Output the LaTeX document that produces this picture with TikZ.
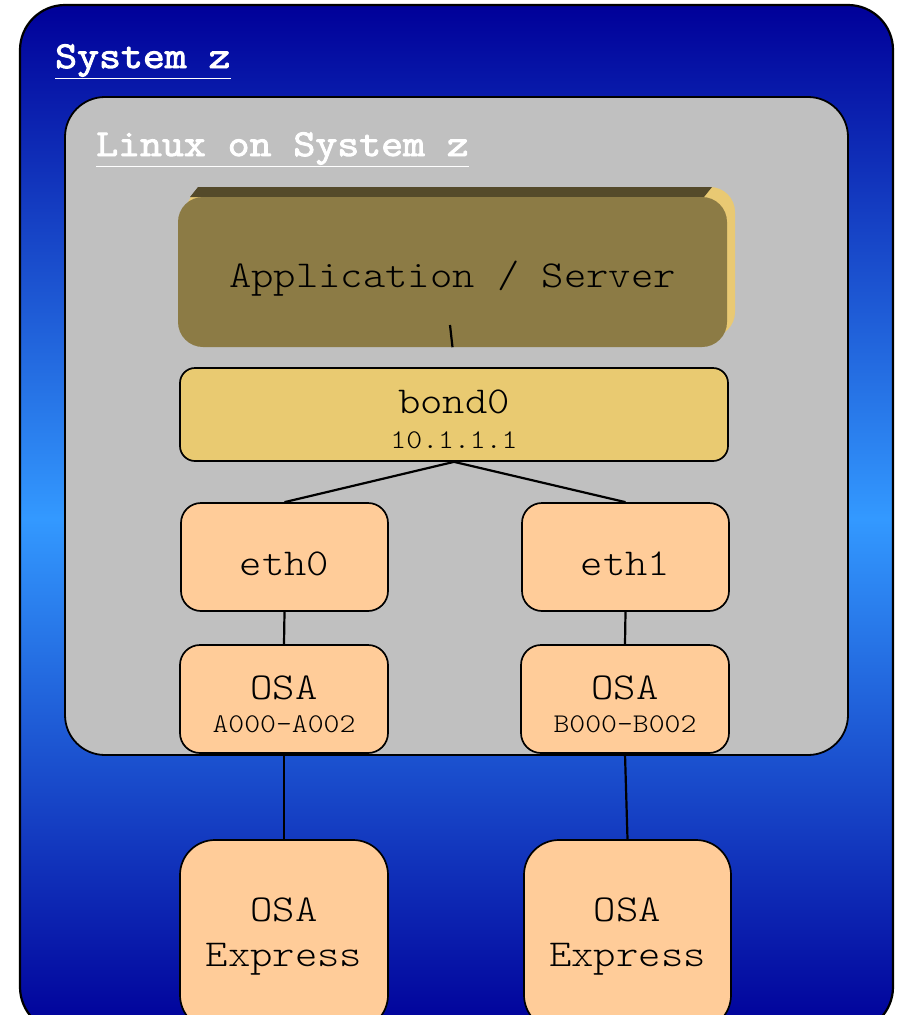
\documentclass[tikz,border=0pt]{standalone}
\usepackage{fontspec}
\newfontfamily\cour[FakeStretch=1.12]{Latin Modern Mono Light}
\newfontfamily\courbold[FakeStretch=1.12,FakeBold=2.5]{Latin Modern Mono}
\definecolor{outerdark}{RGB}{0,0,153}
\definecolor{outerlight}{RGB}{51,153,255}
\definecolor{linuxgray}{RGB}{192,192,192}
\definecolor{appfront}{RGB}{140,123,69}
\definecolor{apptop}{RGB}{84,74,42}
\definecolor{appside}{RGB}{233,201,115}
\definecolor{bondfill}{RGB}{233,202,113}
\definecolor{peach}{RGB}{255,204,153}
\newcommand\myBig[1]{\cour\fontsize{38}{#1}\selectfont}
\newcommand\mySmall[1]{\cour\fontsize{27}{#1}\selectfont}
\begin{document}
\begin{tikzpicture}[x=1pt,y=-1pt,
  box/.style={draw=black, line width=1.7pt, inner sep=0pt, align=center, text depth=0pt},
  peachbox/.style={box, fill=peach, rounded corners=20pt, minimum width=207pt, minimum height=108pt},
  link/.style={draw=black, line width=2.2pt},
  title/.style={anchor=base west, text=white, inner sep=0pt, font=\courbold\fontsize{38}{40}\selectfont}]
\useasboundingbox (0,0) rectangle (899,1015);
\clip (0,0) rectangle (899,1015);
% outer System z box
\path[draw=black, line width=2.2pt, rounded corners=45pt, top color=outerdark, bottom color=outerdark, middle color=outerlight]
  (20,5) rectangle (893,1032);
\node[title] (systitle) at (55,68) {\underline{System z}};
% inner Linux box
\path[draw=black, line width=1.8pt, fill=linuxgray, rounded corners=40pt] (65,97) rectangle (848,755);
\node[title] (linuxtitle) at (96,156) {\underline{Linux on System z}};
% application 3D box
\path[fill=appside, rounded corners=25pt] (186,187) rectangle (735,337);
\path[fill=apptop] (198,187) -- (712,187) -- (704,197) -- (190,197) -- cycle;
\node[inner sep=0pt, fill=appfront, rounded corners=25pt, minimum width=549pt, minimum height=150pt,
  text height=30pt, text depth=0pt, font=\myBig{40}] (app) at (452.5,272) {Application / Server};
\coordinate (appin) at (450,325);
% bond0
\node[box, fill=bondfill, rounded corners=15pt, minimum width=548pt, minimum height=93pt,
  text height=67pt, font=\myBig{35}] (bond) at (454,414.5) {bond0\\{\mySmall{35}10.1.1.1}};
% eth
\node[peachbox, text height=36pt, font=\myBig{40}] (eth0) at (284.5,557) {eth0};
\node[peachbox, text height=36pt, font=\myBig{40}] (eth1) at (625.5,557) {eth1};
% OSA
\node[peachbox, minimum width=208pt, text height=66pt, font=\myBig{33}] (osa1) at (284,699) {OSA\\{\mySmall{33}A000-A002}};
\node[peachbox, minimum width=208pt, text height=66pt, font=\myBig{33}] (osa2) at (625,699) {OSA\\{\mySmall{33}B000-B002}};
% OSA Express
\node[peachbox, rounded corners=35pt, minimum width=208pt, minimum height=190pt, text height=62pt, font=\myBig{45}] (exp1) at (284,935) {OSA\\Express};
\node[peachbox, rounded corners=35pt, minimum width=207pt, minimum height=190pt, text height=62pt, font=\myBig{45}] (exp2) at (627.5,935) {OSA\\Express};
% connectors
\draw[link] (appin) -- (app.south);
\draw[link] (bond.south) -- (eth0.north);
\draw[link] (bond.south) -- (eth1.north);
\draw[link] (eth0.south) -- (osa1.north);
\draw[link] (eth1.south) -- (osa2.north);
\draw[link] (osa1.south) -- (exp1.north);
\draw[link] (osa2.south) -- (exp2.north);
\end{tikzpicture}
\end{document}
